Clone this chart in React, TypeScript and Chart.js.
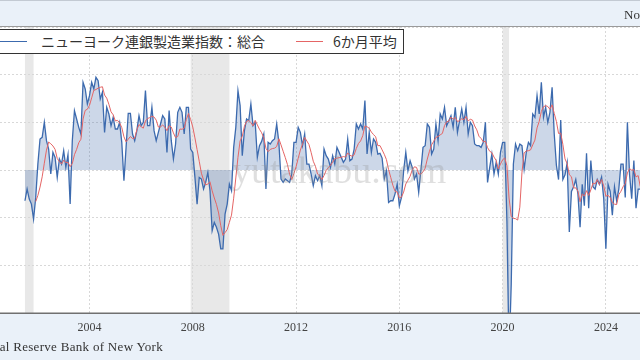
import React, { useEffect, useRef } from 'react';
import { Chart, registerables } from 'chart.js';

Chart.register(...registerables);

// ---- Data (monthly, starting July 2001) ----
const START_YEAR = 2001;
const START_MONTH = 7;

const y2001 = [-12.9, -8.0, -12.2, -14.3, -20.6, -11.5];
const y2002 = [2.5, 13.0, 13.7, 20.0, 12.3, 8.8, -1.7, 7.4, 5.3, -3.1, 4.6, 2.5];
const y2003 = [8.1, 1.1, 6.4, -14.3, 12.3, 24.9, 21.4, 17.9, 15.1, 36.8, 34.0, 27.7];
const y2004 = [31.2, 36.8, 34.0, 38.9, 37.5, 29.8, 32.6, 15.8, 26.3, 23.5, 18.6, 22.1];
const y2005 = [17.2, 17.2, 20.0, 11.6, -4.5, 9.5, 23.8, 23.8, 15.1, 12.3, 16.5, 22.8];
const y2006 = [18.6, 20.0, 33.3, 18.6, 18.6, 26.3, 16.5, 12.3, 15.8, 19.3, 22.8, 21.4];
const y2007 = [7.4, 24.9, 12.3, 4.6, 10.9, 24.2, 26.3, 24.2, 15.1, 26.3, 26.3, 8.8];
const y2008 = [7.4, -3.1, -14.3, -3.1, -3.8, -8.0, -5.2, -1.0, -8.7, -25.5, -22.0, -24.0];
const y2009 = [-26.9, -33.1, -33.1, -18.5, -14.3, -5.9, -8.7, 9.5, 17.9, 33.3, 27.0, 6.0];
const y2010 = [16.5, 21.4, 20.7, 27.7, 18.6, 20.0, 5.3, 10.2, 12.0, 15.1, -8.0, 11.6];
const y2011 = [10.9, 12.3, 13.0, 19.3, 11.6, -3.8, -5.2, -3.8, -4.5, -5.2, -1.7, 11.6];
const y2012 = [11.6, 17.9, 15.8, 10.2, 15.1, 2.5, 2.5, -1.7, -6.6, -2.4, -4.5, -2.4];
const y2013 = [-6.6, 8.8, 6.0, 4.6, 1.1, 6.0, 2.5, 9.5, 7.4, 5.3, 3.2, 4.6];
const y2014 = [13.0, 3.9, 4.6, 8.8, 19.3, 17.2, 19.3, 17.2, 29.1, 6.7, 15.8, 7.4];
const y2015 = [13.0, 11.6, 6.7, 7.0, 5.0, -3.8, -0.3, -13.6, -12.9, -12.9, -10.0, -5.9];
const y2016 = [-15.0, -11.5, -0.3, 7.4, -0.3, 3.9, 1.1, -3.8, -1.7, -9.4, -0.3, 9.5];
const y2017 = [10.2, 19.3, 17.9, 6.7, 8.8, 19.3, 12.3, 23.5, 21.4, 26.3, 18.6, 20.7];
const y2018 = [22.8, 17.9, 26.3, 15.8, 20.7, 25.6, 20.0, 26.3, 15.1, 20.0, 18.6, 10.9];
const y2019 = [10.2, 10.2, 9.5, 11.6, 20.0, -5.2, 1.1, 6.7, -1.7, 3.2, -1.7, 7.4];
const y2020 = [11.6, 11.6, -21.5, -78.0, -48.0, 2.5, 10.9, 8.1, 10.9, 10.2, 0.4, 7.4];
const y2021 = [11.6, 10.2, 23.5, 22.1, 31.2, 23.5, 36.8, 22.1, 26.3, 20.0, 24.2, 34.7];
const y2022 = [15.0, 2.0, -4.0, 21.0, -4.0, -2.0, 3.0, -26.0, -9.0, -7.0, -4.0, -10.0];
const y2023 = [-24.0, -6.0, -15.0, 7.0, -16.0, 4.0, -7.0, -8.0, -4.0, -6.0, -3.0, -12.0];
const y2024 = [-33.0, -6.0, -9.0, -19.0, -7.0, -13.0, -8.0, 2.5, 2.5, -11.5, 20.0, -2.0];
const y2025 = [-12.0, 4.0, -16.0, -8.0, -8.0];

const indexValues = [
  ...y2001, ...y2002, ...y2003, ...y2004, ...y2005, ...y2006, ...y2007, ...y2008,
  ...y2009, ...y2010, ...y2011, ...y2012, ...y2013, ...y2014, ...y2015, ...y2016,
  ...y2017, ...y2018, ...y2019, ...y2020, ...y2021, ...y2022, ...y2023, ...y2024, ...y2025,
];

const MA_WINDOW = 6;
const tickYears = [2004, 2008, 2012, 2016, 2020, 2024];
const yTicks = [-60, -40, -20, 0, 20, 40, 60];
const recessionStarts = [2001.5, 2007.917, 2020.0];
const recessionEnds = [2001.833, 2009.42, 2020.25];

const seriesLabel = 'ニューヨーク連銀製造業指数：総合';
const maLabel = '6か月平均';
const sourceText = 'Source: Federal Reserve Bank of New York';
const noteText = 'Note: Shaded areas indicate U.S. recessions';
const watermark = 'yutakabu.com';

const BLUE = '#3c6aae';
const RED = '#e56565';

export default function App() {
  const ref = useRef<HTMLCanvasElement | null>(null);

  useEffect(() => {
    const canvas = ref.current;
    if (!canvas) return;

    const dateOf = (i: number) => START_YEAR + (START_MONTH - 1 + i) / 12;
    const mainPts = indexValues.map((v, i) => ({ x: dateOf(i), y: v }));
    const maPts: { x: number; y: number }[] = [];
    for (let i = MA_WINDOW - 1; i < indexValues.length; i++) {
      let s = 0;
      for (let k = i - MA_WINDOW + 1; k <= i; k++) s += indexValues[k];
      maPts.push({ x: dateOf(i), y: s / MA_WINDOW });
    }

    const bgPlugin = {
      id: 'bgPlugin',
      beforeDraw(chart: any) {
        const { ctx, chartArea: a, scales } = chart;
        const x = scales.x;
        ctx.save();
        ctx.fillStyle = '#ffffff';
        ctx.fillRect(a.left, a.top, a.right - a.left, a.bottom - a.top);
        ctx.fillStyle = '#e8e8e8';
        recessionStarts.forEach((s, i) => {
          const x1 = x.getPixelForValue(s);
          const x2 = x.getPixelForValue(recessionEnds[i]);
          ctx.fillRect(x1, a.top, x2 - x1, a.bottom - a.top);
        });
        ctx.restore();
      },
      afterDraw(chart: any) {
        const { ctx, chartArea: a } = chart;
        ctx.save();
        ctx.fillStyle = '#9a9a9a';
        ctx.fillRect(0, a.top - 1, chart.width, 1);
        ctx.fillStyle = '#707070';
        ctx.fillRect(0, a.bottom - 0.5, chart.width, 1.5);
        ctx.restore();
      },
    };

    const chart = new Chart(canvas, {
      type: 'line',
      data: {
        datasets: [
          {
            label: maLabel,
            data: maPts,
            borderColor: RED,
            borderWidth: 1,
            pointRadius: 0,
            fill: false,
            tension: 0,
            order: 0,
          },
          {
            label: seriesLabel,
            data: mainPts,
            borderColor: BLUE,
            borderWidth: 1.3,
            pointRadius: 0,
            fill: 'origin',
            backgroundColor: 'rgba(58,100,165,0.26)',
            tension: 0,
            order: 1,
          },
        ],
      },
      options: {
        animation: false,
        responsive: false,
        devicePixelRatio: 1,
        layout: { padding: { top: 27, left: 0, right: 0, bottom: 0 } },
        plugins: { legend: { display: false }, tooltip: { enabled: false } },
        scales: {
          x: {
            type: 'linear',
            min: 1998.984,
            max: 2027.645,
            afterBuildTicks: (scale: any) => {
              scale.ticks = tickYears.map((v) => ({ value: v }));
            },
            afterFit: (scale: any) => {
              scale.height = 47;
            },
            grid: { color: '#d8d8d8', lineWidth: 1, drawTicks: false },
            border: { display: false, dash: [2, 2] },
            ticks: {
              padding: 8,
              color: '#444',
              font: { family: 'Liberation Serif', size: 12 },
              callback: (v: any) => String(v),
            },
          },
          y: {
            min: -60,
            max: 60,
            afterBuildTicks: (scale: any) => {
              scale.ticks = yTicks.map((v) => ({ value: v }));
            },
            afterFit: (scale: any) => {
              scale.width = 0;
            },
            grid: { color: '#d8d8d8', lineWidth: 1, drawTicks: false },
            border: { display: false, dash: [2, 2] },
            ticks: { display: false },
          },
        },
      },
      plugins: [bgPlugin],
    } as any);

    return () => chart.destroy();
  }, []);

  return (
    <div
      style={{
        position: 'fixed',
        left: 0,
        top: 0,
        width: 640,
        height: 360,
        overflow: 'hidden',
        background: '#eaf1f9',
        borderTop: '1px solid #c3cad3',
        boxSizing: 'border-box',
      }}
    >
      <canvas
        ref={ref}
        width={740}
        height={360}
        style={{ position: 'absolute', left: -40, top: -1, width: 740, height: 360 }}
      />
      <div
        style={{
          position: 'absolute',
          left: 232,
          top: 150,
          fontFamily: 'Liberation Serif',
          fontSize: 38,
          lineHeight: '38px',
          color: 'rgba(150,150,150,0.3)',
          whiteSpace: 'nowrap',
          pointerEvents: 'none',
        }}
      >
        {watermark}
      </div>
      <div
        style={{
          position: 'absolute',
          left: -1,
          top: 28,
          width: 405,
          height: 25,
          boxSizing: 'border-box',
          border: '1px solid #333',
          background: '#fff',
          fontFamily: '"Noto Sans CJK JP", sans-serif',
          fontSize: 14,
          color: '#333',
        }}
      >
        <div style={{ position: 'absolute', left: 0, top: 11, width: 27, height: 0, borderTop: `1.5px solid ${BLUE}` }} />
        <div style={{ position: 'absolute', left: 41, top: 0, lineHeight: '23px', whiteSpace: 'nowrap' }}>{seriesLabel}</div>
        <div style={{ position: 'absolute', left: 296, top: 11, width: 27, height: 0, borderTop: `1.5px solid ${RED}` }} />
        <div style={{ position: 'absolute', left: 333, top: 0, lineHeight: '23px', whiteSpace: 'nowrap' }}>{maLabel}</div>
      </div>
      <div
        style={{
          position: 'absolute',
          left: 624,
          top: 6,
          fontFamily: 'Liberation Serif',
          fontSize: 13,
          lineHeight: '16px',
          color: '#333',
          whiteSpace: 'nowrap',
        }}
      >
        {noteText}
      </div>
      <div
        style={{
          position: 'absolute',
          right: 477,
          top: 338,
          fontFamily: 'Liberation Serif',
          fontSize: 13,
          letterSpacing: '0.3px',
          lineHeight: '16px',
          color: '#333',
          whiteSpace: 'nowrap',
        }}
      >
        {sourceText}
      </div>
    </div>
  );
}
